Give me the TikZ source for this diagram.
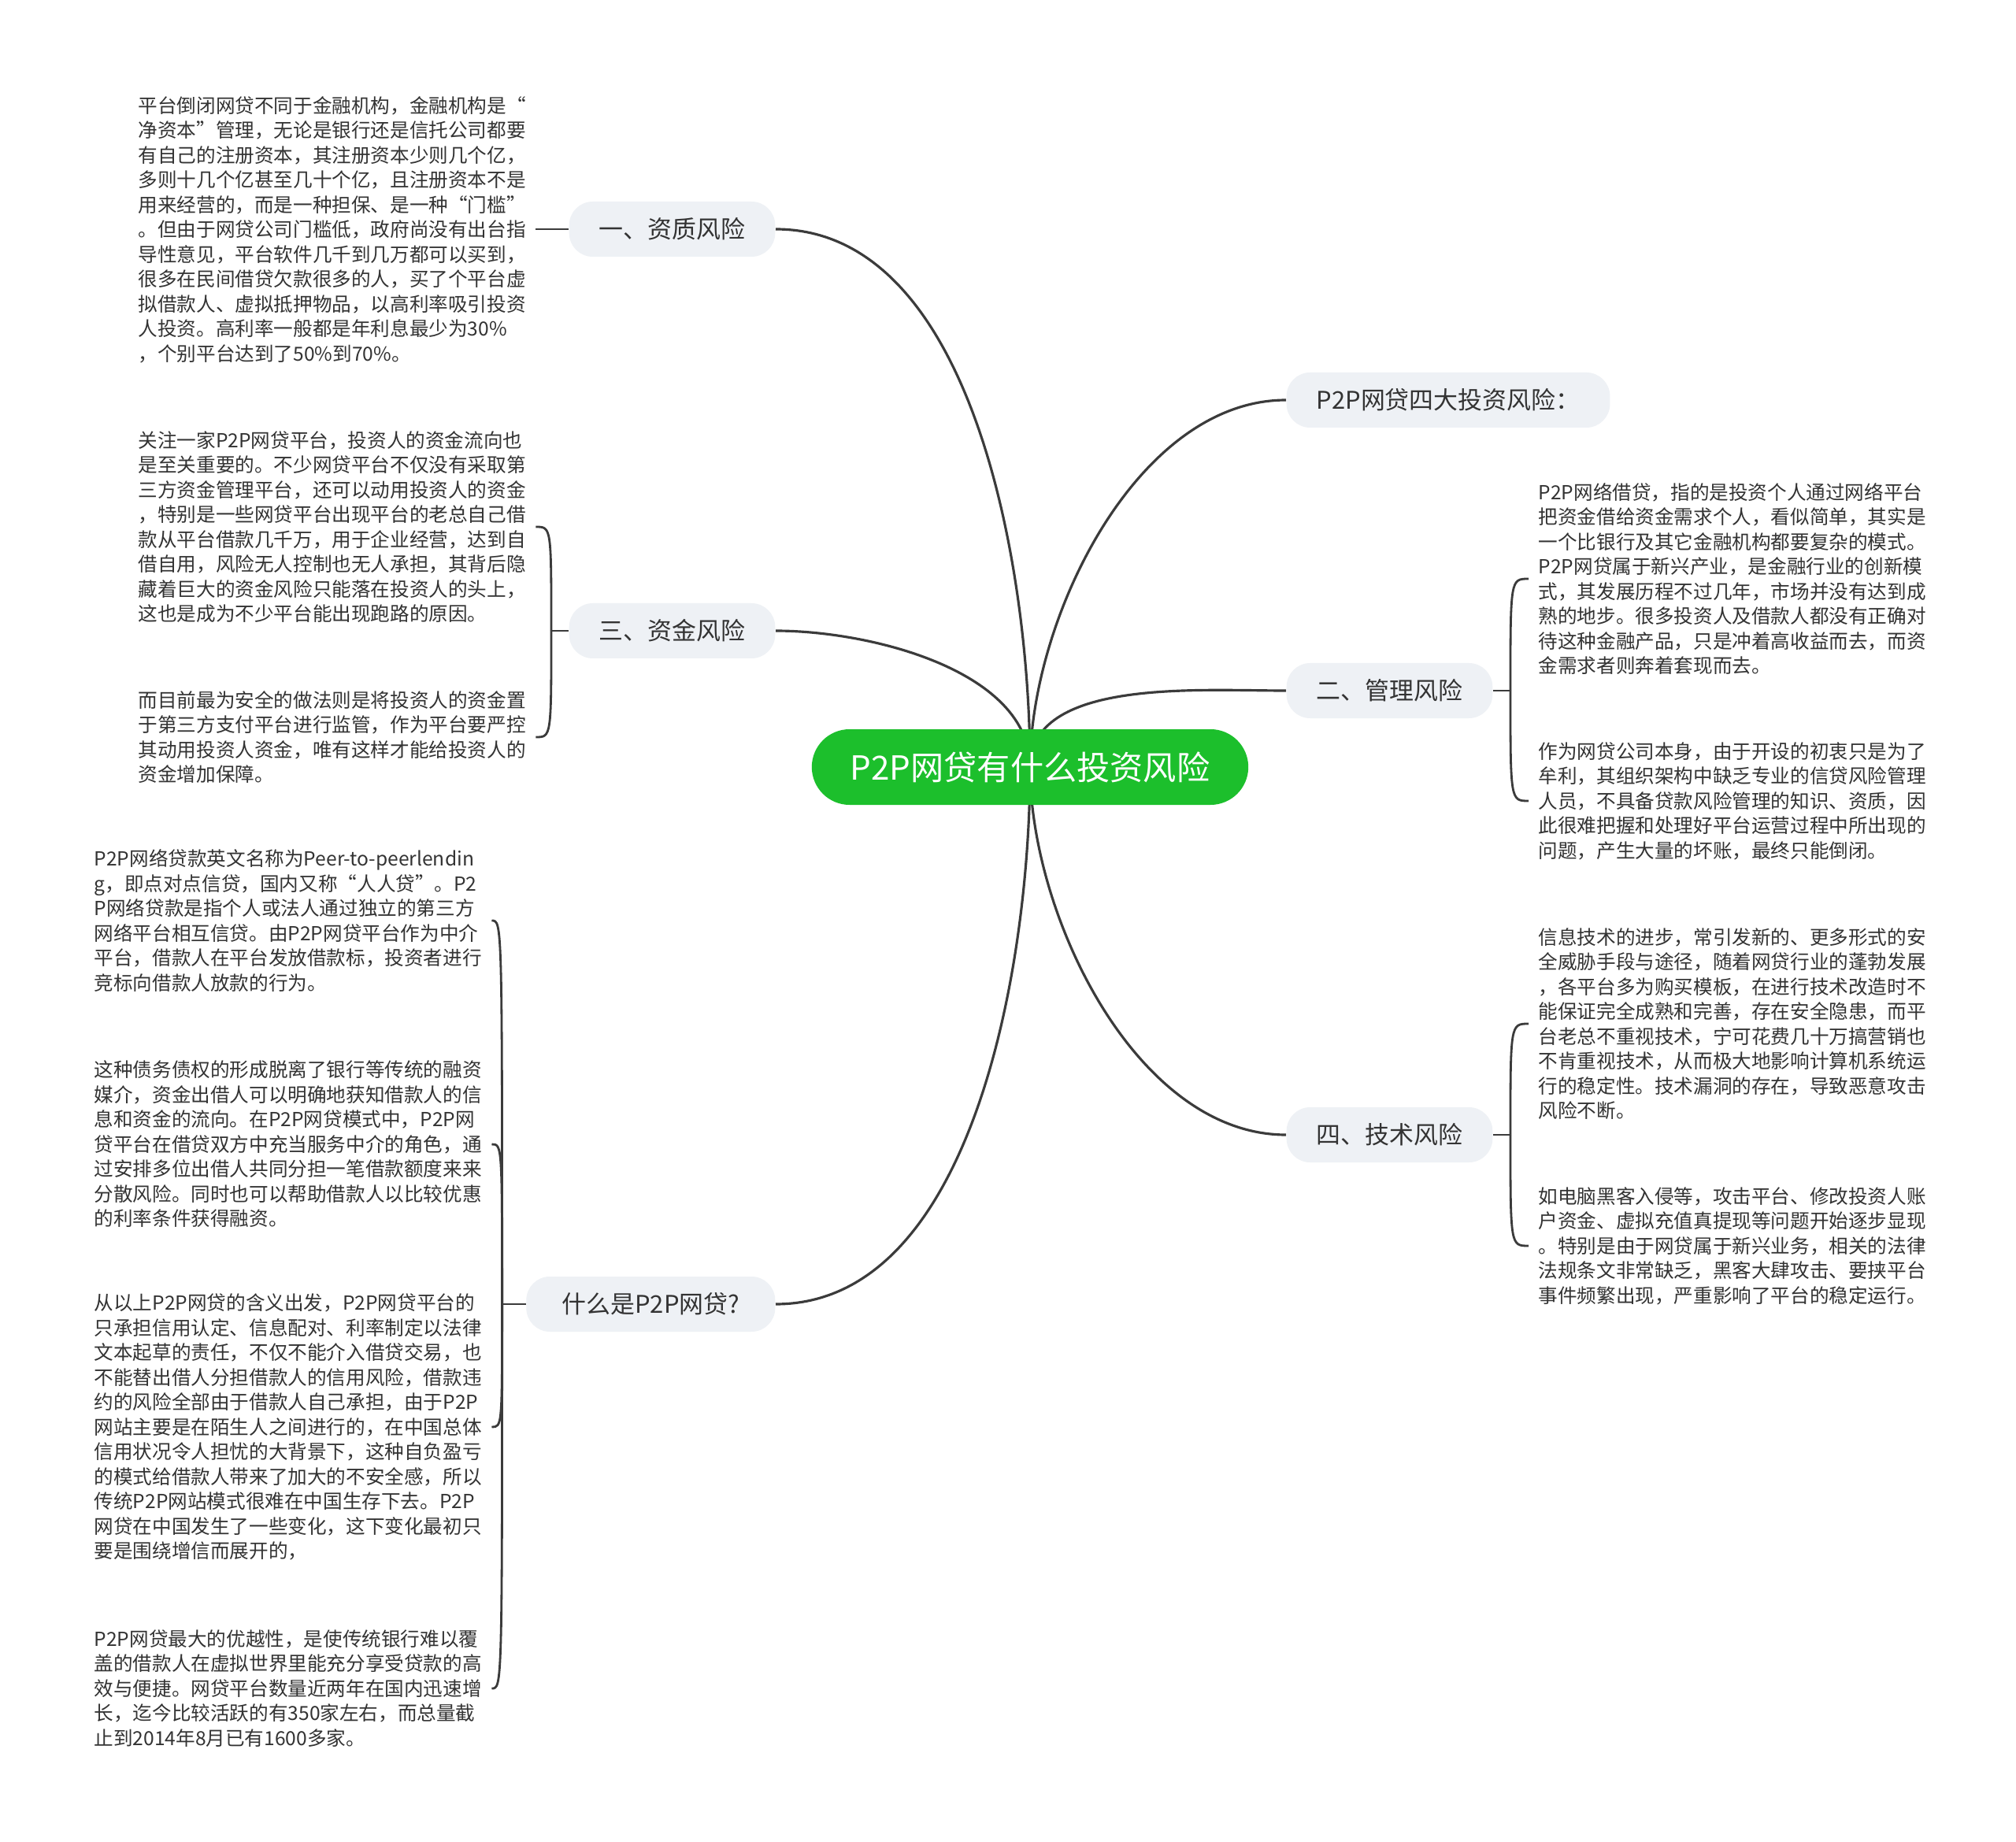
\documentclass[tikz,border=0pt]{standalone}
\usepackage{fontspec}
\setmainfont{Noto Sans CJK SC}
\usepackage{xcolor}
\definecolor{mapink}{HTML}{333333}
\definecolor{mapline}{HTML}{3B3B3B}
\definecolor{mapgreen}{HTML}{1CBF2C}
\definecolor{mappale}{HTML}{EEF1F5}
\pgfdeclarelayer{back}
\pgfsetlayers{back,main}
\newcommand{\hookto}[2]{\draw[twig] (#1) .. controls (#1 |- #2) .. (#2);}

\begin{document}
\begin{tikzpicture}[
  x=1cm,
  y=1cm,
  root/.style={fill=mapgreen, text=white, rounded corners=0.48cm, minimum height=0.96cm, inner xsep=0.49cm, font=\fontsize{12}{14}\selectfont},
  branch/.style={fill=mappale, text=mapink, rounded corners=0.3cm, minimum height=0.7cm, inner xsep=0.38cm, font=\fontsize{8.8}{10}\selectfont},
  leaf/.style={text=mapink, align=left, inner xsep=0.12cm, inner ysep=0.05cm, font=\fontsize{7}{8.96}\selectfont},
  link/.style={draw=mapline, line width=0.9pt},
  twig/.style={draw=mapline, line width=0.8pt}
]
  \useasboundingbox (0,0) rectangle (25.6,-23.39);

  \node[root] (root) at (13.08,-9.74) {P2P网贷有什么投资风险};

  \node[branch, anchor=east] (zizhi) at (9.85,-2.91) {一、资质风险};
  \node[branch, anchor=east] (zijin) at (9.85,-8.01) {三、资金风险};
  \node[branch, anchor=east, minimum width=3.16cm] (shenme) at (9.85,-16.56) {什么是P2P网贷?};
  \node[branch, anchor=west] (sida) at (16.33,-5.08) {P2P网贷四大投资风险：};
  \node[branch, anchor=west] (guanli) at (16.33,-8.77) {二、管理风险};
  \node[branch, anchor=west] (jishu) at (16.33,-14.41) {四、技术风险};

  \node[leaf, anchor=west] (zizhi1) at (1.63,-2.915) {平台倒闭网贷不同于金融机构，金融机构是“\\净资本”管理，无论是银行还是信托公司都要\\有自己的注册资本，其注册资本少则几个亿，\\多则十几个亿甚至几十个亿，且注册资本不是\\用来经营的，而是一种担保、是一种“门槛”\\。但由于网贷公司门槛低，政府尚没有出台指\\导性意见，平台软件几千到几万都可以买到，\\很多在民间借贷欠款很多的人，买了个平台虚\\拟借款人、虚拟抵押物品，以高利率吸引投资\\人投资。高利率一般都是年利息最少为30\%\\，个别平台达到了50\%到70\%。};

  \node[leaf, anchor=west] (zijin1) at (1.63,-6.69) {关注一家P2P网贷平台，投资人的资金流向也\\是至关重要的。不少网贷平台不仅没有采取第\\三方资金管理平台，还可以动用投资人的资金\\，特别是一些网贷平台出现平台的老总自己借\\款从平台借款几千万，用于企业经营，达到自\\借自用，风险无人控制也无人承担，其背后隐\\藏着巨大的资金风险只能落在投资人的头上，\\这也是成为不少平台能出现跑路的原因。};
  \node[leaf, anchor=west] (zijin2) at (1.63,-9.36) {而目前最为安全的做法则是将投资人的资金置\\于第三方支付平台进行监管，作为平台要严控\\其动用投资人资金，唯有这样才能给投资人的\\资金增加保障。};

  \node[leaf, anchor=west] (shenme1) at (1.07,-11.69) {P2P网络贷款英文名称为Peer-to-peerlendin\\g，即点对点信贷，国内又称“人人贷”。P2\\P网络贷款是指个人或法人通过独立的第三方\\网络平台相互信贷。由P2P网贷平台作为中介\\平台，借款人在平台发放借款标，投资者进行\\竞标向借款人放款的行为。};
  \node[leaf, anchor=west] (shenme2) at (1.07,-14.53) {这种债务债权的形成脱离了银行等传统的融资\\媒介，资金出借人可以明确地获知借款人的信\\息和资金的流向。在P2P网贷模式中，P2P网\\贷平台在借贷双方中充当服务中介的角色，通\\过安排多位出借人共同分担一笔借款额度来来\\分散风险。同时也可以帮助借款人以比较优惠\\的利率条件获得融资。};
  \node[leaf, anchor=west] (shenme3) at (1.07,-18.12) {从以上P2P网贷的含义出发，P2P网贷平台的\\只承担信用认定、信息配对、利率制定以法律\\文本起草的责任，不仅不能介入借贷交易，也\\不能替出借人分担借款人的信用风险，借款违\\约的风险全部由于借款人自己承担，由于P2P\\网站主要是在陌生人之间进行的，在中国总体\\信用状况令人担忧的大背景下，这种自负盈亏\\的模式给借款人带来了加大的不安全感，所以\\传统P2P网站模式很难在中国生存下去。P2P\\网贷在中国发生了一些变化，这下变化最初只\\要是围绕增信而展开的，};
  \node[leaf, anchor=west] (shenme4) at (1.07,-21.44) {P2P网贷最大的优越性，是使传统银行难以覆\\盖的借款人在虚拟世界里能充分享受贷款的高\\效与便捷。网贷平台数量近两年在国内迅速增\\长，迄今比较活跃的有350家左右，而总量截\\止到2014年8月已有1600多家。};

  \node[leaf, anchor=west] (guanli1) at (19.41,-7.35) {P2P网络借贷，指的是投资个人通过网络平台\\把资金借给资金需求个人，看似简单，其实是\\一个比银行及其它金融机构都要复杂的模式。\\P2P网贷属于新兴产业，是金融行业的创新模\\式，其发展历程不过几年，市场并没有达到成\\熟的地步。很多投资人及借款人都没有正确对\\待这种金融产品，只是冲着高收益而去，而资\\金需求者则奔着套现而去。};
  \node[leaf, anchor=west] (guanli2) at (19.41,-10.17) {作为网贷公司本身，由于开设的初衷只是为了\\牟利，其组织架构中缺乏专业的信贷风险管理\\人员，不具备贷款风险管理的知识、资质，因\\此很难把握和处理好平台运营过程中所出现的\\问题，产生大量的坏账，最终只能倒闭。};

  \node[leaf, anchor=west] (jishu1) at (19.41,-13.00) {信息技术的进步，常引发新的、更多形式的安\\全威胁手段与途径，随着网贷行业的蓬勃发展\\，各平台多为购买模板，在进行技术改造时不\\能保证完全成熟和完善，存在安全隐患，而平\\台老总不重视技术，宁可花费几十万搞营销也\\不肯重视技术，从而极大地影响计算机系统运\\行的稳定性。技术漏洞的存在，导致恶意攻击\\风险不断。};
  \node[leaf, anchor=west] (jishu2) at (19.41,-15.82) {如电脑黑客入侵等，攻击平台、修改投资人账\\户资金、虚拟充值真提现等问题开始逐步显现\\。特别是由于网贷属于新兴业务，相关的法律\\法规条文非常缺乏，黑客大肆攻击、要挟平台\\事件频繁出现，严重影响了平台的稳定运行。};

  \coordinate (zijinJ) at ([xshift=-0.22cm]zijin.west);
  \coordinate (shenmeJ) at ([xshift=-0.3cm]shenme.west);
  \coordinate (guanliJ) at ([xshift=0.22cm]guanli.east);
  \coordinate (jishuJ) at ([xshift=0.22cm]jishu.east);

  \begin{pgfonlayer}{back}
    \fill[white] (0,0) rectangle (25.6,-23.39);
    \draw[link] (root.center) to[out=90, in=0, looseness=0.85] (zizhi.east);
    \draw[link] (root.center) to[out=90, in=0, looseness=0.85] (zijin.east);
    \draw[link] (root.center) to[out=-90, in=0, looseness=0.85] (shenme.east);
    \draw[link] (root.center) to[out=90, in=180, looseness=0.85] (sida.west);
    \draw[link] (root.center) to[out=90, in=180, looseness=0.85] (guanli.west);
    \draw[link] (root.center) to[out=-90, in=180, looseness=0.85] (jishu.west);
  \end{pgfonlayer}

  \draw[twig] (zizhi.west) -- (zizhi.west -| zizhi1.east);
  \draw[twig] (zijin.west) -- (zijinJ);
  \hookto{zijinJ}{zijin1.east}
  \hookto{zijinJ}{zijin2.east}
  \draw[twig] (shenme.west) -- (shenmeJ);
  \hookto{shenmeJ}{shenme1.east}
  \hookto{shenmeJ}{shenme2.east}
  \hookto{shenmeJ}{shenme3.east}
  \hookto{shenmeJ}{shenme4.east}
  \draw[twig] (guanli.east) -- (guanliJ);
  \hookto{guanliJ}{guanli1.west}
  \hookto{guanliJ}{guanli2.west}
  \draw[twig] (jishu.east) -- (jishuJ);
  \hookto{jishuJ}{jishu1.west}
  \hookto{jishuJ}{jishu2.west}
\end{tikzpicture}
\end{document}
